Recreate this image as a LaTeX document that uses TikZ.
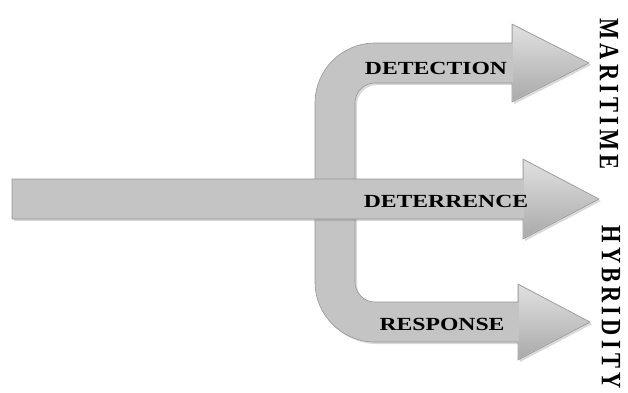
\documentclass[tikz,border=0pt]{standalone}
\usepackage{fontspec}
\setmainfont{Liberation Serif}
\newfontfamily\armfont[FakeStretch=1.28]{Liberation Serif}
\newfontfamily\sidefont[FakeStretch=0.8,LetterSpace=15]{Liberation Serif}
\usetikzlibrary{shadows}

\definecolor{arrowfill}{RGB}{196,196,196}
\definecolor{arrowedge}{RGB}{150,150,150}
\definecolor{headlight}{RGB}{224,224,224}
\definecolor{headdark}{RGB}{170,170,170}

\begin{document}
\begin{tikzpicture}[x=1pt, y=-1pt,
    arrowbody/.style={fill=arrowfill, draw=arrowedge, line width=0.6pt,
        drop shadow={opacity=0.3, shadow xshift=2pt, shadow yshift=-2pt}},
    headshade/.style={top color=headlight, bottom color=headdark},
    armtext/.style={font=\armfont\bfseries\fontsize{18.5}{20}\selectfont,
        text=black, inner sep=0pt},
    sidetext/.style={font=\sidefont\bfseries\fontsize{28}{30}\selectfont,
        rotate=-90, inner sep=0pt}
]
    \useasboundingbox (0,0) rectangle (628,392);

    % bracket with the two side arrows
    \path[arrowbody] (512,43) -- (375,43)
        arc[start angle=270, end angle=180, radius=60] -- (315,282)
        arc[start angle=180, end angle=90, radius=60] -- (518,342)
        -- (518,360) -- (590,322) -- (518,284) -- (518,302) -- (375,302)
        arc[start angle=90, end angle=180, radius=20] -- (355,103)
        arc[start angle=180, end angle=270, radius=20] -- (512,83)
        -- (512,102) -- (589,63) -- (512,24) -- cycle;

    % long middle arrow
    \path[arrowbody] (12,179) -- (523,179) -- (523,159) -- (599,199)
        -- (523,239) -- (523,219) -- (12,219) -- cycle;

    % heads
    \shade[headshade] (513,25.5) -- (587,63) -- (513,100.5) -- cycle;
    \shade[headshade] (524,160.5) -- (597,199) -- (524,237.5) -- cycle;
    \shade[headshade] (519,285.5) -- (588,322) -- (519,358.5) -- cycle;

    \node[armtext] (detection) at (436,68) {DETECTION};
    \node[armtext] (deterrence) at (446,201) {DETERRENCE};
    \node[armtext] (response) at (442,324) {RESPONSE};

    \node[sidetext] (maritime) at (609,94) {MARITIME};
    \node[sidetext] (hybridity) at (611,307) {HYBRIDITY};
\end{tikzpicture}
\end{document}
